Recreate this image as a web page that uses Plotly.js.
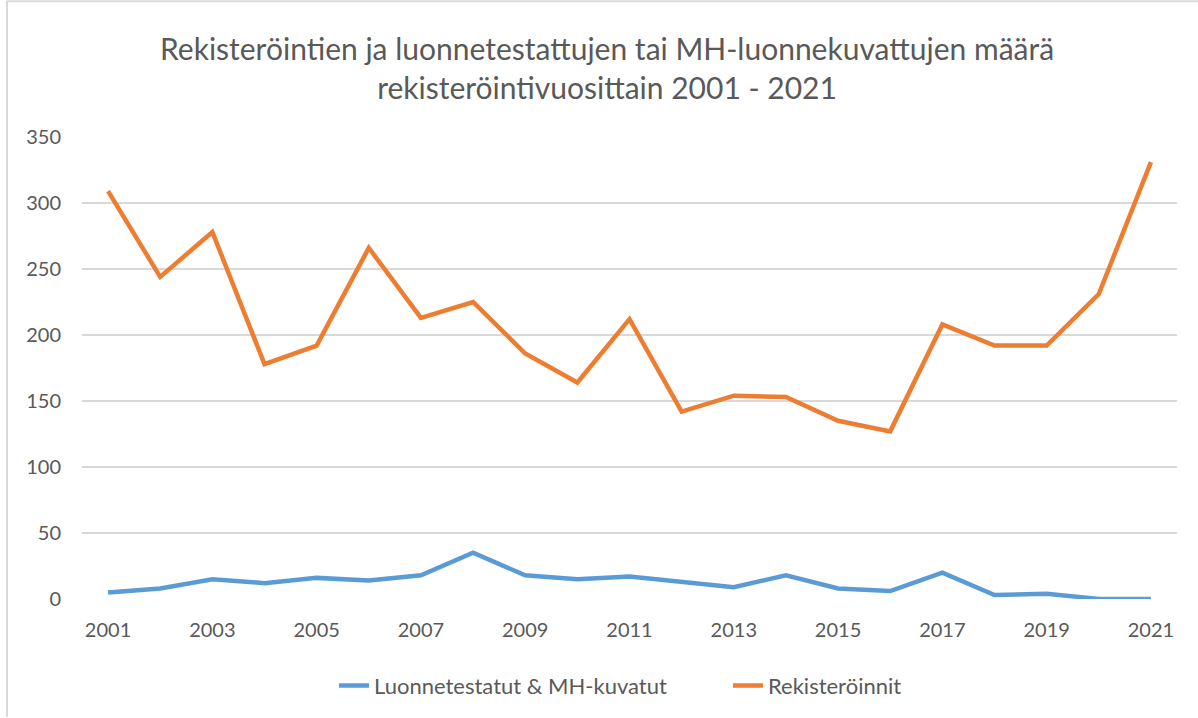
<!DOCTYPE html>
<html><head><meta charset="utf-8">
<script src="https://cdn.plot.ly/plotly-3.0.1.min.js"></script>
<style>html,body{margin:0;padding:0;background:#fff;}#chart{width:1198px;height:718px;}</style>
</head><body><div id="chart"></div>
<script>
const years = [2001,2002,2003,2004,2005,2006,2007,2008,2009,2010,2011,2012,2013,2014,2015,2016,2017,2018,2019,2020,2021];
const luonnetestatut = [5,8,15,12,16,14,18,35,18,15,17,13,9,18,8,6,20,3,4,0,0];
const rekisteroinnit = [309,244,278,178,192,266,213,225,186,164,212,142,154,153,135,127,208,192,192,231,331];
const xTicks = [2001,2003,2005,2007,2009,2011,2013,2015,2017,2019,2021];
const yTicks = [0,50,100,150,200,250,300,350];
const titleText = 'Rekisteröintien ja luonnetestattujen tai MH-luonnekuvattujen määrä<br>rekisteröintivuosittain 2001 - 2021';
const fontFam = 'Lato, "Open Sans", sans-serif';
const traces = [
  {x: years, y: luonnetestatut, type:'scatter', mode:'lines', name:'Luonnetestatut &amp; MH-kuvatut',
   line:{color:'#5B9BD5', width:4.5}},
  {x: years, y: rekisteroinnit, type:'scatter', mode:'lines', name:'Rekisteröinnit',
   line:{color:'#ED7D31', width:4.5}}
];
const W = 1095, H = 463;
const layout = {
  width:1198, height:718,
  margin:{l:82, r:21, t:137, b:118},
  paper_bgcolor:'#fff', plot_bgcolor:'#fff',
  font:{family:fontFam, color:'#595959', size:20},
  xaxis:{range:[2000.5,2021.5], tickvals:xTicks, ticktext:xTicks.map(String), showgrid:false, zeroline:false,
    showline:false, ticks:'', ticklabelstandoff:17, tickfont:{size:20, color:'#595959'}, fixedrange:true},
  yaxis:{range:[0,350], tickvals:yTicks, showgrid:true, gridcolor:'#D9D9D9', gridwidth:1.3, zeroline:false,
    showline:false, ticks:'', ticklabelstandoff:20, tickfont:{size:20, color:'#595959'}, fixedrange:true},
  showlegend:true,
  legend:{orientation:'h', x:(334-82)/W, xanchor:'left', y:-0.14, yanchor:'top', font:{size:22, color:'#595959'},
    itemwidth:30, tracegroupgap:0, entrywidth:349, entrywidthmode:'pixels'},
  annotations:[{text:titleText, xref:'paper', yref:'paper', x:(607-82)/W, y:1+(137-67)/H, xanchor:'center', yanchor:'middle',
    showarrow:false, align:'center', font:{family:fontFam, size:30, color:'#595959'}}],
  shapes:[
    {type:'line', xref:'paper', yref:'paper', x0:(7-82)/W, x1:(7-82)/W, y0:-118/H, y1:1+136/H, line:{color:'#D9D9D9', width:2}},
    {type:'line', xref:'paper', yref:'paper', x0:(7-82)/W, x1:1+21/W, y0:1+136/H, y1:1+136/H, line:{color:'#D9D9D9', width:2}}
  ]
};
Plotly.newPlot('chart', traces, layout, {displayModeBar:false, staticPlot:true});
</script></body></html>
